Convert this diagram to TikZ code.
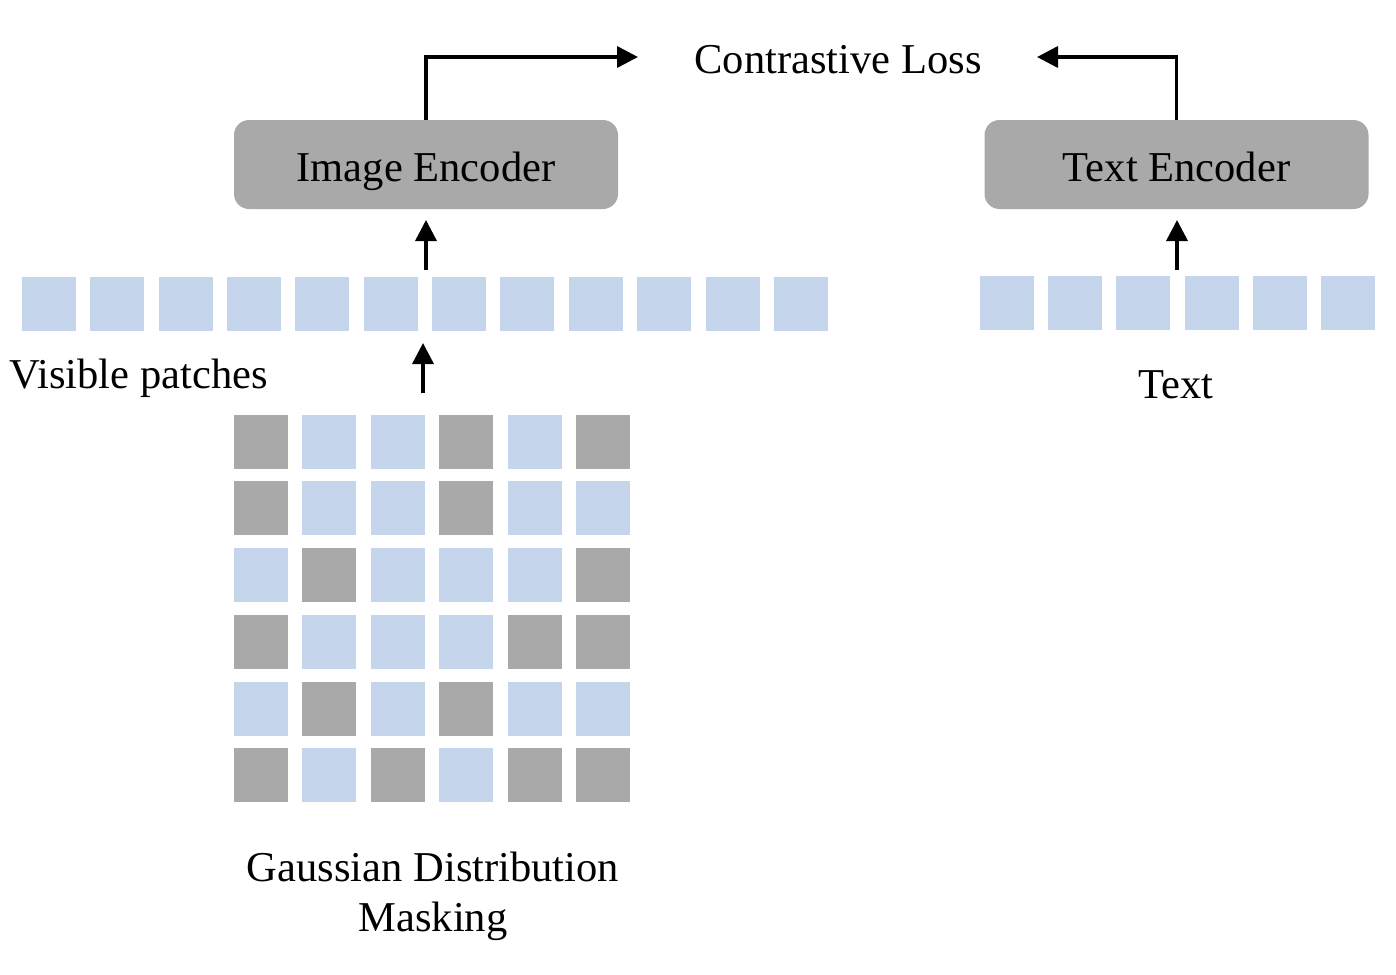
\documentclass[tikz,border=0pt]{standalone}
\usepackage{fontspec}
\setmainfont{Liberation Serif}
\usepackage{tikz}
\usetikzlibrary{arrows.meta,positioning,calc}
\usepackage{xcolor}
\definecolor{encgray}{RGB}{170,169,170}
\definecolor{patchblue}{RGB}{197,213,236}
\tikzset{
  encoder/.style = {fill=encgray, rounded corners=0.3cm, minimum width=7.68cm,
                    minimum height=1.78cm, align=center, font=\biglbl,
                    text height=0.664cm, text depth=0pt},
  vis/.style     = {fill=patchblue, inner sep=0pt, minimum width=1.08cm, minimum height=1.08cm},
  msk/.style     = {fill=encgray, inner sep=0pt, minimum width=1.08cm, minimum height=1.08cm},
  lbl/.style     = {font=\biglbl, inner sep=0pt, anchor=base},
  sig/.style     = {-{Triangle[length=0.42cm,width=0.42cm]}, line width=0.07cm},
}
\newcommand{\biglbl}{\fontsize{24.2}{28}\selectfont}

\begin{document}
\begin{tikzpicture}
\useasboundingbox (0,0) rectangle (27.92,-19.48);
% ---- encoders and loss ----
\node[encoder] (ienc) at (8.52,-3.29) {Image Encoder};
\node[encoder] (tenc) at (23.53,-3.29) {Text Encoder};
\node[lbl] (loss) at (16.76,-1.46) {Contrastive Loss};
\coordinate (lossL) at (12.76,-1.14);
\coordinate (lossR) at (20.74,-1.14);
\draw[sig] (ienc.north) |- (lossL);
\draw[sig] (tenc.north) |- (lossR);
% ---- visible patches ----
\foreach \i in {1,...,12}
  \node[vis] (v\i) at ({0.98+1.367*(\i-1)},-6.08) {};
\node[lbl] (vislbl) at (2.77,-7.76) {Visible patches};
\coordinate (va) at (8.52,-5.4);
\coordinate (vb) at (8.52,-4.4);
\draw[sig] (va) -- (vb);
% ---- text tokens ----
\foreach \i in {1,...,6}
  \node[vis] (t\i) at ({20.14+1.364*(\i-1)},-6.06) {};
\node[lbl] (txtlbl) at (23.52,-7.96) {Text};
\coordinate (ta) at (23.54,-5.4);
\coordinate (tb) at (23.54,-4.4);
\draw[sig] (ta) -- (tb);
% ---- masked image grid ----
\foreach \r/\pat in {0/{msk,vis,vis,msk,vis,msk},
                     1/{msk,vis,vis,msk,vis,vis},
                     2/{vis,msk,vis,vis,vis,msk},
                     3/{msk,vis,vis,vis,msk,msk},
                     4/{vis,msk,vis,msk,vis,vis},
                     5/{msk,vis,msk,vis,msk,msk}}
  \foreach \k [count=\c from 0] in \pat
    \node[\k] (g\r\c) at ({5.22+1.368*\c},{-8.834-1.334*\r}) {};
\coordinate (ga) at (8.46,-7.86);
\coordinate (gb) at (8.46,-6.86);
\draw[sig] (ga) -- (gb);
\node[lbl] (gauss) at (8.66,-17.62) {Gaussian Distribution};
\node[lbl] (gauss2) at (8.66,-18.62) {Masking};
\end{tikzpicture}
\end{document}
